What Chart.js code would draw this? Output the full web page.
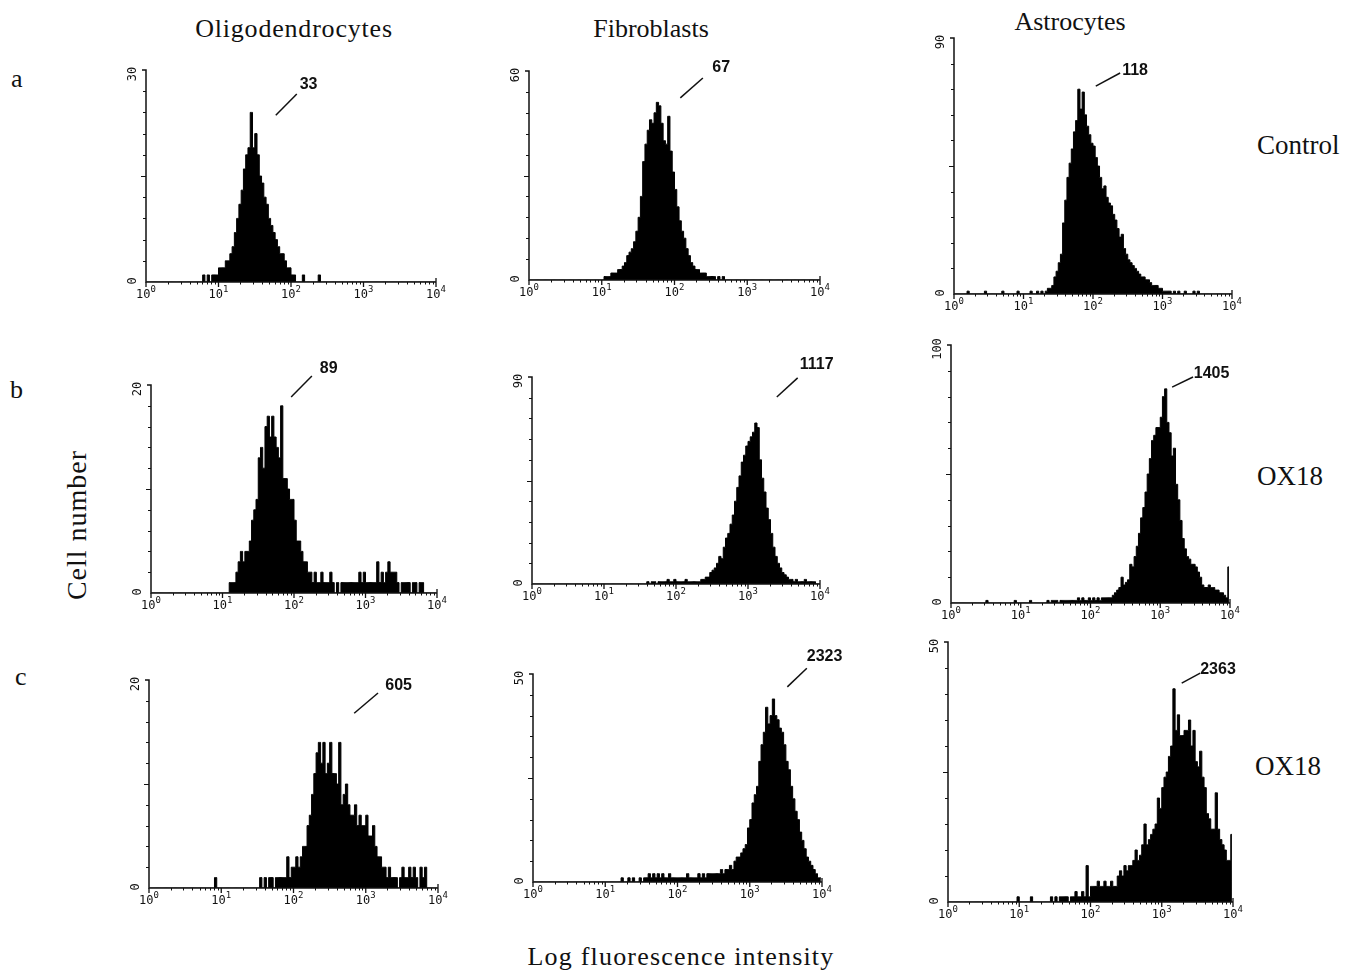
<!DOCTYPE html>
<html><head><meta charset="utf-8">
<script src="https://cdn.jsdelivr.net/npm/chart.js@4.4.1/dist/chart.umd.min.js"></script>
<style>
html,body{margin:0;padding:0;background:#fff;}
body{width:1356px;height:973px;position:relative;overflow:hidden;font-family:"Liberation Serif","Times New Roman",serif;color:#111;}
.t{position:absolute;white-space:nowrap;line-height:1;}
canvas{position:absolute;}
</style></head><body>
<div class="t" style="left:294px;top:16px;font-size:26px;letter-spacing:0.8px;transform:translateX(-50%)">Oligodendrocytes</div>
<div class="t" style="left:651px;top:16px;font-size:26px;transform:translateX(-50%)">Fibroblasts</div>
<div class="t" style="left:1070px;top:9px;font-size:26px;transform:translateX(-50%)">Astrocytes</div>
<div class="t" style="left:11px;top:66px;font-size:26px;">a</div>
<div class="t" style="left:10px;top:377px;font-size:26px;">b</div>
<div class="t" style="left:15px;top:664px;font-size:26px;">c</div>
<div class="t" style="left:1257px;top:132px;font-size:27px;">Control</div>
<div class="t" style="left:1257px;top:463px;font-size:27px;">OX18</div>
<div class="t" style="left:1255px;top:753px;font-size:27px;">OX18</div>
<div class="t" style="left:77px;top:525px;font-size:28px;letter-spacing:1px;transform:translate(-50%,-50%) rotate(-90deg)">Cell number</div>
<div class="t" style="left:681px;top:957px;font-size:26px;letter-spacing:1.2px;transform:translate(-50%,-50%)">Log fluorescence intensity</div>
<script>
// ---- histogram data: counts per channel (32 channels per decade, 128 channels over 10^0..10^4)
const oligoAStart = 25;
const oligoA = [1,0,1,0,1,1,1,2,2,2,3,3,4,5,7,9,11,13,16,18,19,24,19,21,18,15,14,12,11,9,8,7,6,5,4,4,3,2,2,1,1,0,0,0,1,0,0,0,0,0,0,1];
const fibroAStart = 33;
const fibroA = [1,1,1,2,2,2,3,3,4,5,7,8,9,11,14,18,24,34,39,43,46,45,48,51,50,45,40,39,47,37,31,26,21,17,14,12,9,7,5,4,3,3,2,2,2,1,1,1,1,0,1,0,1];
const astroAStart = 6;
const astroA = [1,0,0,0,0,0,0,0, 1,0,0,0,0,0,0,0, 1,0,0,0,0,0,0, 1,0,0,0,0,0, 1,0,0,1,0,1,0,
  1,2,2,3,6,8,11,14,25,33, 41,46,51,57,61,72,65,71,63,59, 56,53,52,48,45,41,37,38,34,32,
  31,28,26,23,20,21,16,14,12,11, 10,9,8,7,6,6,5,5,4,3, 3,3,2,2,1,1,1,1,0,1, 0,1,0,0,1,0,0,0,1,0,1];
const oligoBStart = 35;
const oligoB = [1,1,1,2,3,4,3,4,4,5, 7,8,9,13,14,12,16,17,15,17, 15,14,13,18,11,11,10,9,9,7,
  5,5,4,3,3,2,2,1,2,1, 1,2,1,1,1,2,1,0,1,0, 1,1,1,1,1,1,1,1,2,1, 2,1,1,1,1,1,3,1,2,1,
  2,3,2,2,2,1,0,1,1,1, 1,0,1,1,0,1,1];
const fibroBStart = 51;
const fibroB = [1,0,1,1,0,1,1,1,1,2, 1,1,2,1,1,1,1,2,1,1, 1,1,1,1,2,2,3,3,5,6, 7,9,12,11,16,20,22,26,30,36,
  42,47,53,56,60,62,64,66,70,68, 54,46,40,33,28,22,16,12,9,7, 5,4,3,2,2,1,2,1,1,1, 2,1,1,1,1,0];
const astroBStart = 16;
const astroB = [1, 0,0,0,0,0,0,0,0,0,0,0,0, 1, 0,0,0,0,0,0, 1, 0,0,0,0,0,0,0,
  1,0,1,1,1,0,1,1,1,1, 1,1,1,1,2,1,2,1,1,2, 1,2,1,2,1,2,2,2,2,2, 3,4,5,6,10,7,8,9,15,14,
  18,22,27,33,37,43,50,56,63,65, 68,68,72,80,83,70,66,57,60,46, 40,32,25,21,18,17,15,15,14,12,
  10,7,6,6,7,6,6,5,5,4, 4,3,2,14];
const oligoCStart = 29;
const oligoC = [1, 0,0,0,0,0,0,0,0,0,0,0,0,0,0,0,0,0,0,0,
  1,0,1,0,1,1,0,1,1,1, 1,1,3,1,2,2,3,2,3,4, 4,6,7,9,11,13,14,12,14,11, 12,14,11,11,10,14,8,9,10,8,
  7,7,8,6,7,6,6,7,5,5, 6,4,3,3,2,2,1,2,1,1, 1,0,1,2,1,1,2,1,2,1, 0,2,1,2];
const fibroCStart = 39;
const fibroC = [1,0,0,1,0,1,0,0,1,0, 1,1,2,1,2,1,2,1,2,1, 1,2,1,1,1,1,1,1,1,2, 1,1,1,1,2,1,2,1,2,2,
  2,2,2,2,3,2,3,3,4,3, 5,6,6,7,8,9,13,15,19,21, 23,29,33,36,42,38,40,44,40,39,
  37,36,33,29,27,23,20,17,15,12, 10,8,6,5,4,3,2,1,1];
const astroCStart = 31;
const astroC = [1,0,0,0,0,0, 1,0,0,0,0,0,0,0,0, 1,0,1,0,1,1,1,1,0,1, 1,2,1,1,2,1,7,1,3,3,
  3,4,3,3,4,3,3,4,3,3, 5,6,5,7,6,7,7,8,10,8, 9,11,15,11,12,13,14,15,20,18,
  22,24,25,28,30,41,33,36,32,32, 33,33,35,30,33,27,26,29,24,22, 17,16,14,14,21,14,12,11,10,8, 8,13];

// ---- axis labels
const decades = [0,1,2,3,4];
const yMaxRowA = [30,60,90];
const yMaxRowB = [20,90,100];
const yMaxRowC = [20,50,50];
const peakLabels = ['33','67','118','89','1117','1405','605','2323','2363'];
// annotation leader lines in data units [decade, count]
const noteLines = [
  [[1.79,23.6],[2.08,26.6],[2.12,28.0]],
  [[2.08,52.3],[2.39,58.0],[2.52,60.9]],
  [[2.04,73.1],[2.39,77.7],[2.42,78.4]],
  [[1.96,18.85],[2.25,20.87],[2.36,21.6]],
  [[3.40,81.3],[3.69,89.6],[3.72,95.2]],
  [[3.17,83.7],[3.47,87.6],[3.48,88.8]],
  [[2.84,16.8],[3.17,18.75],[3.27,19.5]],
  [[3.52,46.9],[3.79,51.4],[3.79,54.3]],
  [[3.28,42.1],[3.54,44.0],[3.54,44.6]]
];

const SPAN = 128, PER_DEC = 32;
function binsToPoints(start, counts){
  const pts = [];
  for (let i = 0; i < SPAN; i++){
    const j = i - start;
    pts.push({x:(i+0.5)/PER_DEC, y:(j>=0 && j<counts.length) ? counts[j] : 0});
  }
  return pts;
}

// panel frames (page pixels of plot area)
const frames = [
  {L:146,T:70,R:436,B:282},{L:529,T:71,R:820,B:280},{L:954,T:38,R:1232,B:294},
  {L:151,T:385,R:437,B:593},{L:532,T:377,R:820,B:584},{L:951,T:345,R:1230,B:603},
  {L:149,T:680,R:438,B:888},{L:533,T:674,R:822,B:882},{L:948,T:642,R:1233,B:902}
];
const series = [
  [oligoAStart,oligoA],[fibroAStart,fibroA],[astroAStart,astroA],
  [oligoBStart,oligoB],[fibroBStart,fibroB],[astroBStart,astroB],
  [oligoCStart,oligoC],[fibroCStart,fibroC],[astroCStart,astroC]
];
const maxes = [...yMaxRowA, ...yMaxRowB, ...yMaxRowC];

const axesPlugin = {
  id:'facsAxes',
  afterDatasetsDraw(chart){
    const o = chart.options.plugins.facsAxes;
    const ctx = chart.ctx, a = chart.chartArea, x = chart.scales.x, y = chart.scales.y;
    ctx.save();
    ctx.strokeStyle = '#111'; ctx.fillStyle = '#111';
    ctx.lineWidth = 1.5;
    ctx.beginPath();
    ctx.moveTo(a.left-4, a.top); ctx.lineTo(a.left, a.top);
    ctx.lineTo(a.left, a.bottom); ctx.lineTo(a.right, a.bottom);
    ctx.stroke();
    ctx.lineWidth = 1;
    ctx.beginPath();
    for (let k = 1; k < 10; k++){
      const yp = Math.round(y.getPixelForValue(o.max*k/10)) + 0.5;
      const len = k === 5 ? 5 : 3;
      ctx.moveTo(a.left-len, yp); ctx.lineTo(a.left, yp);
    }
    for (let d = 0; d < 4; d++) for (let m = 2; m < 10; m++){
      const xp = Math.round(x.getPixelForValue(d + Math.log10(m))) + 0.5;
      ctx.moveTo(xp, a.bottom); ctx.lineTo(xp, a.bottom + 2.5);
    }
    ctx.stroke();
    ctx.lineWidth = 1.3;
    ctx.beginPath();
    decades.forEach(d => {
      const xp = x.getPixelForValue(d);
      ctx.moveTo(xp, a.bottom - (d === 4 ? 4 : 0)); ctx.lineTo(xp, a.bottom + 5);
    });
    ctx.stroke();
    // decade labels
    ctx.textBaseline = 'alphabetic';
    decades.forEach(d => {
      const xp = x.getPixelForValue(d);
      ctx.font = '12px "DejaVu Sans Mono", monospace';
      const w1 = ctx.measureText('10').width;
      ctx.font = '9px "DejaVu Sans Mono", monospace';
      const w2 = ctx.measureText(String(d)).width;
      const x0 = xp - (w1 + w2)/2;
      ctx.font = '12px "DejaVu Sans Mono", monospace';
      ctx.textAlign = 'left';
      ctx.fillText('10', x0, a.bottom + 16);
      ctx.font = '9px "DejaVu Sans Mono", monospace';
      ctx.fillText(String(d), x0 + w1, a.bottom + 10);
    });
    // y labels (rotated)
    ctx.font = '12px "DejaVu Sans Mono", monospace';
    ctx.textAlign = 'center'; ctx.textBaseline = 'middle';
    [[o.max, y.getPixelForValue(o.max) + 4],[0, y.getPixelForValue(0) - 1]].forEach(([v, yp]) => {
      ctx.save(); ctx.translate(a.left - 13, yp); ctx.rotate(-Math.PI/2);
      ctx.fillText(String(v), 0, 0); ctx.restore();
    });
    // peak annotation
    const n = o.note;
    ctx.lineWidth = 1.5;
    ctx.beginPath();
    ctx.moveTo(x.getPixelForValue(n.line[0][0]), y.getPixelForValue(n.line[0][1]));
    ctx.lineTo(x.getPixelForValue(n.line[1][0]), y.getPixelForValue(n.line[1][1]));
    ctx.stroke();
    ctx.font = 'bold 16px "Liberation Sans", Arial, sans-serif';
    ctx.textAlign = 'left'; ctx.textBaseline = 'middle';
    ctx.fillText(n.label, x.getPixelForValue(n.line[2][0]), y.getPixelForValue(n.line[2][1]));
    ctx.restore();
  }
};

const PAD = {l:40, t:35, r:55, b:25};
frames.forEach((f, i) => {
  const cv = document.createElement('canvas');
  const w = f.R - f.L + PAD.l + PAD.r, h = f.B - f.T + PAD.t + PAD.b;
  cv.width = w; cv.height = h;
  cv.style.left = (f.L - PAD.l) + 'px'; cv.style.top = (f.T - PAD.t) + 'px';
  cv.style.width = w + 'px'; cv.style.height = h + 'px';
  document.body.appendChild(cv);
  new Chart(cv, {
    type:'line',
    data:{datasets:[{
      data: binsToPoints(series[i][0], series[i][1]),
      stepped:'middle', fill:'origin', backgroundColor:'#000', borderColor:'#000',
      borderWidth:1, pointRadius:0, tension:0
    }]},
    options:{
      responsive:false, animation:false, events:[],
      layout:{padding:{left:PAD.l, top:PAD.t, right:PAD.r, bottom:PAD.b}, autoPadding:false},
      scales:{
        x:{type:'linear', min:0, max:4, display:false},
        y:{type:'linear', min:0, max:maxes[i], display:false}
      },
      plugins:{legend:{display:false}, tooltip:{enabled:false},
        facsAxes:{max:maxes[i], note:{label:peakLabels[i], line:noteLines[i]}}}
    },
    plugins:[axesPlugin]
  });
});
</script>
</body></html>
